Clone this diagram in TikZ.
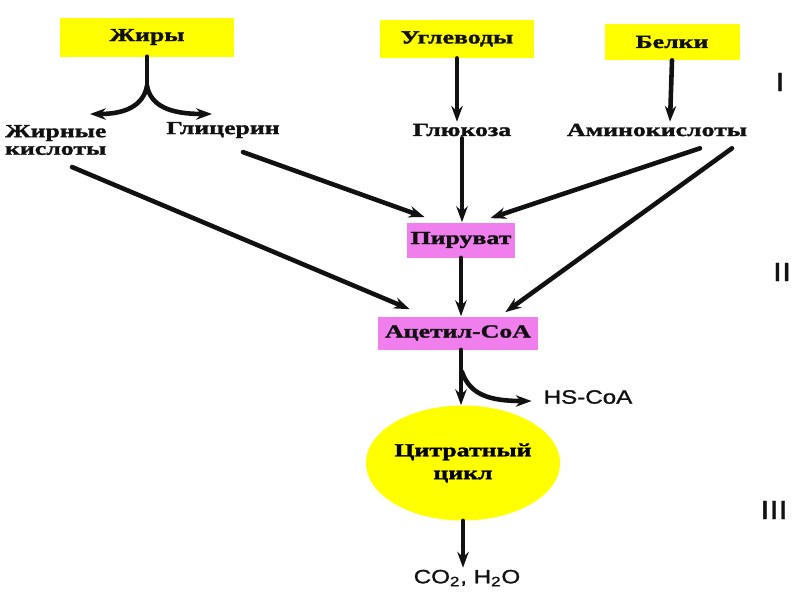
\documentclass[tikz,border=0pt]{standalone}
\usepackage{fontspec}
\setmainfont{Liberation Serif}[FakeStretch=1.4, BoldFeatures={FakeBold=1.6}]
\newfontfamily\mtsans{Liberation Sans}[FakeStretch=1.25, FakeBold=1.2]
\usepackage{tikz}
\usetikzlibrary{arrows.meta}
\usetikzlibrary{shapes.geometric}
\usetikzlibrary{positioning}
\definecolor{mtyellow}{HTML}{FFFF00}
\definecolor{mtpink}{HTML}{F07EEC}
\definecolor{mtink}{HTML}{111111}
\tikzset{
  mtbox/.style={
    fill=mtyellow, inner sep=0pt, font=\fontsize{10.5}{12}\selectfont\bfseries,
    text=mtink},
  mtpinkbox/.style={
    fill=mtpink, inner sep=0pt, font=\fontsize{10.5}{12}\selectfont\bfseries,
    text=mtink},
  mtlabel/.style={font=\fontsize{10.5}{12}\selectfont\bfseries, text=mtink,
    inner sep=1pt},
  mtsanslabel/.style={font=\mtsans\fontsize{11}{13}\selectfont, text=mtink,
    inner sep=1pt},
  mtroman/.style={font=\mtsans\fontsize{15}{17}\selectfont, text=mtink},
  mtarrow/.style={-{Stealth[length=9pt, width=6.5pt]}, draw=mtink,
    line width=2.6pt},
  every picture/.style={line cap=round},
}

\begin{document}
\begin{tikzpicture}[x=0.02cm, y=-0.02cm]
\useasboundingbox (0, 0) rectangle (800, 600);

% Sources.
\node[mtbox, minimum width=3.5cm, minimum height=0.78cm]
  (fats) at (147, 37) {Жиры};
\node[mtbox, minimum width=3.1cm, minimum height=0.76cm]
  (carbs) at (457, 39) {Углеводы};
\node[mtbox, minimum width=2.7cm, minimum height=0.72cm]
  (prots) at (672, 42) {Белки};

% Stage I products.
\node[mtlabel, anchor=west, align=left] (fatacids) at (3, 140)
  {Жирные\\[-2pt]кислоты};
\node[mtlabel] (glycerol) at (223, 130) {Глицерин};
\node[mtlabel] (glucose) at (462, 130) {Глюкоза};
\node[mtlabel] (amino) at (657, 130) {Аминокислоты};

% Stage II.
\node[mtpinkbox, minimum width=2.16cm, minimum height=0.7cm]
  (pyruvate) at (461, 240) {Пируват};
\node[mtpinkbox, minimum width=3.2cm, minimum height=0.66cm]
  (acetyl) at (458, 333) {Ацетил-CoA};

% Stage III.
\node[mtsanslabel] (hscoa) at (588, 397) {HS-CoA};
\node[ellipse, fill=mtyellow, minimum width=2.96cm, minimum height=2.3cm,
      inner sep=0pt, align=center, font=\fontsize{10.5}{13}\selectfont\bfseries]
  (cycle) at (463, 463) {Цитратный\\цикл};
\node[mtsanslabel] (products) at (467, 578) {CO\textsubscript{2}, H\textsubscript{2}O};

% Stage numbers.
\node[mtroman] (stage1) at (780, 82) {I};
\node[mtroman] (stage2) at (782, 272) {II};
\node[mtroman] (stage3) at (774, 510) {III};

% Fats split into two.
\coordinate (fork) at (147, 86);
\coordinate (forkleft) at (90, 114);
\coordinate (forkright) at (212, 114);
\draw[line width=2.8pt, draw=mtink] (fats.south) -- (fork);
\draw[mtarrow] (fork) .. controls (143, 106) and (125, 114) .. (forkleft);
\draw[mtarrow] (fork) .. controls (151, 106) and (170, 114) .. (forkright);

\draw[mtarrow] (carbs.south) -- (glucose.north -| carbs.south);
\draw[mtarrow] (prots.south) -- ([xshift=0.26cm]amino.north);

% Into pyruvate and acetyl-CoA.
\draw[mtarrow] (glucose.south) -- (pyruvate.north -| glucose.south);
\draw[mtarrow] ([xshift=0.4cm, yshift=-0.24cm]glycerol.south)
  -- ([xshift=0.36cm, yshift=0.1cm]pyruvate.north west);
\draw[mtarrow] ([xshift=0.86cm, yshift=-0.2cm]amino.south)
  -- ([xshift=-0.5cm, yshift=0.08cm]pyruvate.north east);
\draw[mtarrow] ([xshift=1.5cm, yshift=-0.2cm]amino.south)
  -- ([xshift=-0.66cm, yshift=0.08cm]acetyl.north east);
\draw[mtarrow] ([xshift=1.38cm, yshift=-0.2cm]fatacids.south west)
  -- ([xshift=0.64cm, yshift=0.14cm]acetyl.north west);
\draw[mtarrow] (pyruvate.south) -- (acetyl.north -| pyruvate.south);

% Into the cycle.
\draw[mtarrow] ([xshift=0.06cm]acetyl.south) -- ([xshift=0.06cm]acetyl.south |- cycle.north);
\draw[mtarrow] ([xshift=0.08cm, yshift=-0.44cm]acetyl.south)
  .. controls (470, 395) and (490, 401) .. ([xshift=-0.2cm, yshift=-0.08cm]hscoa.west);
\draw[mtarrow] (cycle.south) -- (products.north -| cycle.south);

\end{tikzpicture}
\end{document}
